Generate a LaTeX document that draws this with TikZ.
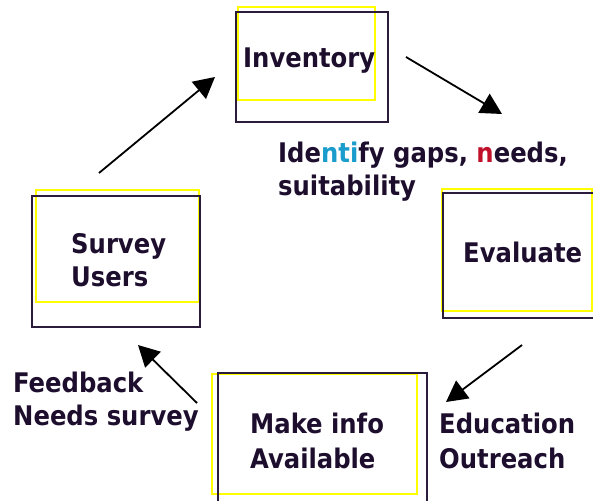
\documentclass[tikz,border=0pt]{standalone}
\usepackage{fontspec}
\IfFontExistsTF{DejaVu Sans Condensed}
  {\setmainfont{DejaVu Sans Condensed}\newcommand{\lblsize}{27}}
  {\setmainfont{Liberation Sans}\newcommand{\lblsize}{29}}
\usetikzlibrary{arrows.meta}
\definecolor{ink}{HTML}{1E0E2E}
\definecolor{boxline}{HTML}{2C1C3C}
\definecolor{ylw}{HTML}{FFFF00}
\definecolor{cyanish}{HTML}{1A9CCC}
\definecolor{redish}{HTML}{C0102A}
\tikzset{
  darkbox/.style={draw=boxline, line width=1.8pt},
  ylwbox/.style={draw=ylw, line width=1.8pt},
  lbl/.style={anchor=base west, inner sep=0pt, text=ink, font=\fontsize{\lblsize}{33}\selectfont\bfseries, align=left},
  lblwide/.style={lbl, font=\fontsize{\lblsize}{35}\selectfont\bfseries},
  flow/.style={line width=1.8pt, -{Triangle[length=21pt,width=22pt]}}
}
\begin{document}
\begin{tikzpicture}[x=1pt,y=-1pt]
\useasboundingbox (0,0) rectangle (593,500);
% boxes
\draw[ylwbox] (238,7) rectangle (375,100);
\draw[darkbox] (236,12) rectangle (388,122);
\draw[ylwbox] (442,189) rectangle (592,311);
\draw[darkbox] (443,193) rectangle (610,318);
\draw[ylwbox] (36,190) rectangle (199,302);
\draw[darkbox] (32,196) rectangle (200,327);
\draw[ylwbox] (212,374) rectangle (417,494);
\draw[darkbox] (218,373) rectangle (427,510);
% labels (base anchor = baseline of last line)
\node[lbl] (inv) at (243,68) {Inventory};
\node[lbl] (idf) at (278,195) {Ide\textcolor{cyanish}{nti}fy gaps, \textcolor{redish}{n}eeds,\\suitability};
\node[lbl] (eval) at (463,262) {Evaluate};
\node[lbl] (surv) at (71,286) {Survey\\Users};
\node[lblwide] (make) at (250,468) {Make info\\Available};
\node[lblwide] (edu) at (439,468) {Education\\Outreach};
\node[lbl] (fb) at (13,425) {Feedback\\Needs survey};
% arrow ends
\coordinate (a1s) at (99,173);  \coordinate (a1e) at (215,77);
\coordinate (a2s) at (406,57);  \coordinate (a2e) at (502,114);
\coordinate (a3s) at (522,345); \coordinate (a3e) at (446,402);
\coordinate (a4s) at (197,403); \coordinate (a4e) at (138,345);
\draw[flow] (a1s) -- (a1e);
\draw[flow] (a2s) -- (a2e);
\draw[flow] (a3s) -- (a3e);
\draw[flow] (a4s) -- (a4e);
\end{tikzpicture}
\end{document}
